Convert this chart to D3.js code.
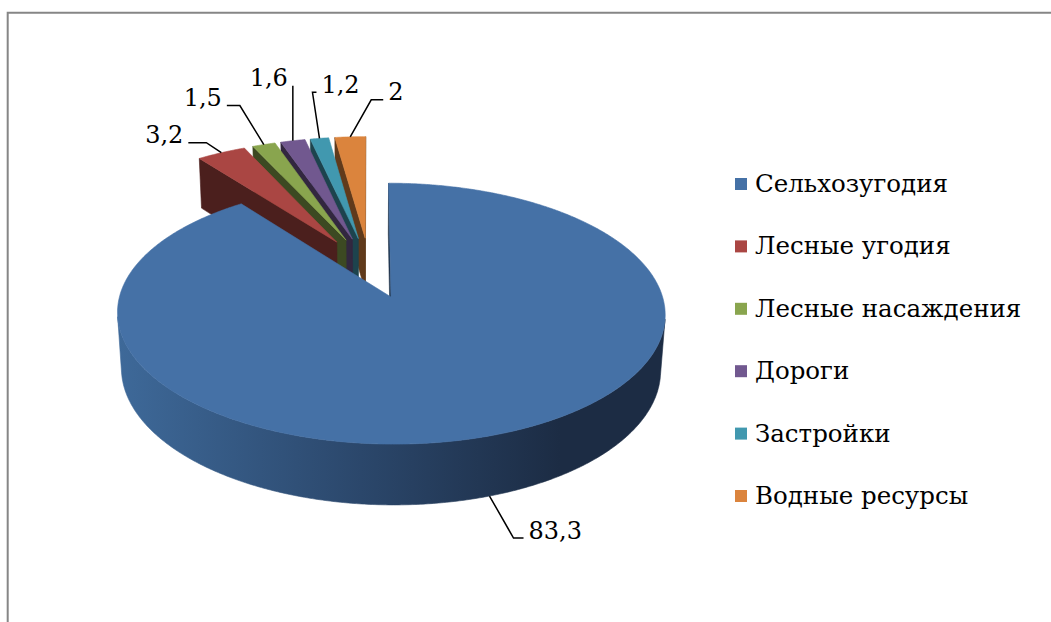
<!DOCTYPE html>
<html>
<head>
<meta charset="utf-8">
<script src="https://cdn.jsdelivr.net/npm/d3@7"></script>
<style>
    body { margin: 0; background: #fff; }
    svg { display: block; }
    text { font-family: "DejaVu Serif", serif; fill: #000; }
</style>
</head>
<body>
<svg id="chart" width="1051" height="622"></svg>
<script>

var categories = ['Сельхозугодия', 'Лесные угодия', 'Лесные насаждения', 'Дороги', 'Застройки', 'Водные ресурсы'];
var values = [83.3, 3.2, 1.5, 1.6, 1.2, 2];
var valueLabels = ['83,3', '3,2', '1,5', '1,6', '1,2', '2'];
var colors = ['#4571a6', '#aa4643', '#89a54e', '#71588f', '#4198af', '#db843d'];

// leader layout: elbow offset from slice anchor, hook length, text side
var leaderLayout = [
    [24, 42, 10, 1],
    [-15, -10, -18, -1],
    [-24, -39, -13, -1],
    [0, -55, 0, -1],
    [-7, -46, 4, 1],
    [21, -37, 12, 1]
];

var svg = d3.select('#chart');

// 3d projection of the pie (x right, y back, z up)
var F = 1890,
    L = 7.17,
    tilt = 27.3 * Math.PI / 180,
    sa = Math.sin(tilt),
    ca = Math.cos(tilt),
    H = 0.235,
    E = 0.25,
    ox = 0,
    oy = 0;

var camera = [0, -L * ca, L * sa];

function project (p) {
    var yu = p[1] * sa + p[2] * ca,
        d = p[1] * ca - p[2] * sa,
        k = F / (L + d);
    return [ox + p[0] * k, oy - yu * k, d];
}

var arcs = d3.pie().sort(null).value(function (d) { return d; })(values);

arcs.forEach(function (a, i) {
    var mid = (a.startAngle + a.endAngle) / 2;
    a.mid = mid;
    a.off = [E * Math.sin(mid), E * Math.cos(mid)];
    a.index = i;
});

function pt (a, ang, r, z) {
    return [a.off[0] + r * Math.sin(ang), a.off[1] + r * Math.cos(ang), z];
}

// put the apex of the big slice where the reference has it
var apex = project(pt(arcs[0], 0, 0, 0));
ox = 391 - apex[0];
oy = 297 - apex[1];

var defs = svg.append('defs');
var grad = defs.append('linearGradient')
    .attr('id', 'sideBlue')
    .attr('gradientUnits', 'userSpaceOnUse')
    .attr('x1', 118).attr('x2', 560).attr('y1', 0).attr('y2', 0);
grad.append('stop').attr('offset', 0).attr('stop-color', '#3e6999');
grad.append('stop').attr('offset', 0.55).attr('stop-color', '#2b476b');
grad.append('stop').attr('offset', 1).attr('stop-color', '#1c2c44');

var line = d3.line();

function visible (n, p) {
    return n[0] * (camera[0] - p[0]) + n[1] * (camera[1] - p[1]) + n[2] * (camera[2] - p[2]) > 0;
}

function slice_faces (a) {
    var faces = [],
        s = a.startAngle,
        e = a.endAngle,
        dark = d3.rgb(colors[a.index]).darker(2.3).formatHex(),
        wallFill = a.index === 0 ? 'url(#sideBlue)' : dark;

    // radial faces
    [[s, [-Math.cos(s), Math.sin(s), 0]], [e, [Math.cos(e), -Math.sin(e), 0]]].forEach(function (f) {
        var ang = f[0],
            quad = [pt(a, ang, 0, 0), pt(a, ang, 1, 0), pt(a, ang, 1, -H), pt(a, ang, 0, -H)];
        if (visible(f[1], pt(a, ang, 0.5, -H / 2))) {
            faces.push({ pts: quad.map(project), fill: dark });
        }
    });

    // outer wall, merged into runs of visible segments
    var n = Math.max(2, Math.ceil((e - s) / (Math.PI / 180))),
        step = (e - s) / n,
        run = null;
    for (var j = 0; j < n; j++) {
        var t = s + (j + 0.5) * step,
            vis = visible([Math.sin(t), Math.cos(t), 0], pt(a, t, 1, -H / 2));
        if (vis) {
            if (!run) run = [s + j * step];
            run[1] = s + (j + 1) * step;
        }
        if ((!vis || j === n - 1) && run) {
            var top = [], bot = [];
            var m = Math.max(2, Math.ceil((run[1] - run[0]) / (Math.PI / 360)));
            for (var q = 0; q <= m; q++) {
                var ang = run[0] + (run[1] - run[0]) * q / m;
                top.push(project(pt(a, ang, 1, 0)));
                bot.push(project(pt(a, ang, 1, -H)));
            }
            faces.push({ pts: top.concat(bot.reverse()), fill: wallFill });
            run = null;
        }
    }

    faces.forEach(function (f) {
        f.depth = d3.mean(f.pts, function (p) { return p[2]; });
    });
    faces.sort(function (x, y) { return y.depth - x.depth; });

    // top face
    var topPts = [project(pt(a, s, 0, 0))],
        k = Math.max(2, Math.ceil((e - s) / (Math.PI / 360)));
    for (var i = 0; i <= k; i++) {
        topPts.push(project(pt(a, s + (e - s) * i / k, 1, 0)));
    }
    faces.push({ pts: topPts, fill: colors[a.index] });
    return faces;
}

// draw slices back to front
var order = arcs.slice().sort(function (x, y) {
    return project([y.off[0], y.off[1], 0])[2] - project([x.off[0], x.off[1], 0])[2];
});

var pie = svg.append('g').attr('class', 'pie');

order.forEach(function (a) {
    var g = pie.append('g').attr('class', 'slice');
    g.selectAll('path')
        .data(slice_faces(a))
        .enter()
        .append('path')
        .attr('d', function (f) { return line(f.pts.map(function (p) { return [p[0], p[1]]; })) + 'Z'; })
        .attr('fill', function (f) { return f.fill; })
        .attr('stroke', function (f) { return f.fill; })
        .attr('stroke-width', 0.6)
        .attr('stroke-linejoin', 'round');
});

// data labels with leader lines
var labels = svg.append('g').attr('class', 'labels');

arcs.forEach(function (a, i) {
    var anchor = project(pt(a, a.mid, 1, i === 0 ? -H : 0)),
        lay = leaderLayout[i],
        elbow = [anchor[0] + lay[0], anchor[1] + lay[1]],
        end = [elbow[0] + lay[2], elbow[1]];

    labels.append('path')
        .attr('d', line([[anchor[0], anchor[1]], elbow, end]))
        .attr('fill', 'none')
        .attr('stroke', '#000')
        .attr('stroke-width', 1.5);

    labels.append('text')
        .attr('x', end[0] + lay[3] * 5)
        .attr('y', elbow[1] + 0.5)
        .attr('text-anchor', lay[3] > 0 ? 'start' : 'end')
        .style('font-size', '24px')
        .text(valueLabels[i]);
});

// legend
var legendY = d3.scalePoint()
    .domain(categories)
    .range([184, 496]);

var legend = svg.append('g').attr('class', 'legend')
    .selectAll('g')
    .data(categories)
    .enter()
    .append('g')
    .attr('transform', function (d) { return 'translate(735,' + legendY(d) + ')'; });

legend.append('rect')
    .attr('x', 0)
    .attr('y', -6)
    .attr('width', 12)
    .attr('height', 12)
    .attr('fill', function (d, i) { return colors[i]; });

legend.append('text')
    .attr('x', 20)
    .attr('y', 8)
    .style('font-size', '24.5px')
    .text(function (d) { return d; });

// chart area border (only top and left edges are in view)
svg.append('path')
    .attr('d', 'M7.7,622V12.7H1051')
    .attr('fill', 'none')
    .attr('stroke', '#868686')
    .attr('stroke-width', 2);

</script>
</body>
</html>
